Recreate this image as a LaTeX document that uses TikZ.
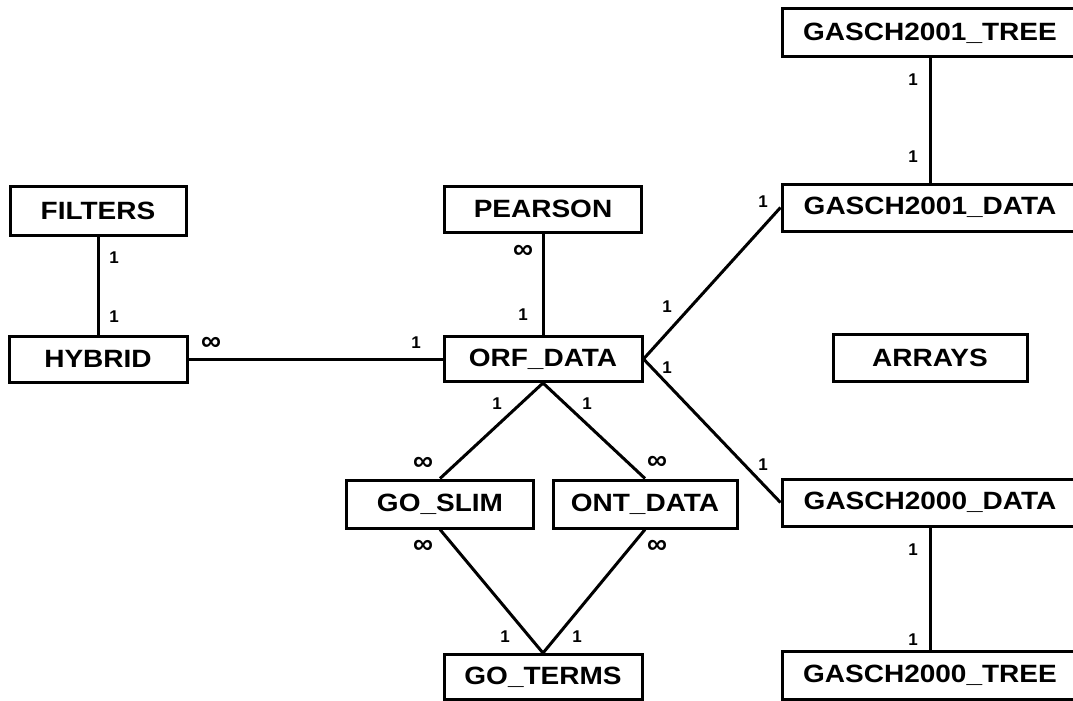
\documentclass[tikz,border=0pt]{standalone}
\usepackage{fontspec}
\setmainfont{Liberation Sans}
\newfontfamily\entityfont[FakeStretch=1.12]{Liberation Sans Bold}
\newfontfamily\cardfont{Liberation Sans Bold}
\begin{document}
\begin{tikzpicture}[x=1pt,y=-1pt,
  entity/.style={draw=black,line width=3pt,fill=white,inner sep=0pt,
    font=\entityfont\fontsize{25}{28}\selectfont,text=black},
  link/.style={draw=black,line width=3pt},
  card/.style={inner sep=0pt,font=\cardfont\fontsize{17}{18}\selectfont},
  many/.style={inner sep=0pt,font=\cardfont\fontsize{28}{30}\selectfont}]
\useasboundingbox (0,0) rectangle (1073,701);
\fill[white] (0,0) rectangle (1073,701);
\begin{scope}
\clip (0,0) rectangle (1073,701);
% entity boxes
\node[entity,minimum width=176pt,minimum height=49pt] (filters) at (98,211) {FILTERS};
\node[entity,minimum width=178pt,minimum height=46pt] (hybrid) at (98,359) {HYBRID};
\node[entity,minimum width=197pt,minimum height=46pt] (pearson) at (543,209) {PEARSON};
\node[entity,minimum width=198pt,minimum height=45pt] (orf) at (543,359) {ORF\_DATA};
\node[entity,minimum width=187pt,minimum height=48pt] (goslim) at (440,504) {GO\_SLIM};
\node[entity,minimum width=184pt,minimum height=48pt] (ont) at (645,504) {ONT\_DATA};
\node[entity,minimum width=198pt,minimum height=45pt] (goterms) at (543,677) {GO\_TERMS};
\node[entity,minimum width=194pt,minimum height=47pt] (arrays) at (930,358) {ARRAYS};
\node[entity,minimum width=296pt,minimum height=48pt] (gtree1) at (930,33) {GASCH2001\_TREE};
\node[entity,minimum width=296pt,minimum height=47pt] (gdata1) at (930,207.5) {GASCH2001\_DATA};
\node[entity,minimum width=296pt,minimum height=47pt] (gdata0) at (930,502.5) {GASCH2000\_DATA};
\node[entity,minimum width=296pt,minimum height=48pt] (gtree0) at (930,675) {GASCH2000\_TREE};
% relationships
\draw[link] (filters) -- (hybrid);
\draw[link] (hybrid.east) -- (orf.west);
\draw[link] (pearson) -- (orf);
\draw[link] (orf.south) -- (goslim.north);
\draw[link] (orf.south) -- (ont.north);
\draw[link] (goslim.south) -- (goterms.north);
\draw[link] (ont.south) -- (goterms.north);
\draw[link] (orf.east) -- (gdata1.west);
\draw[link] (orf.east) -- (gdata0.west);
\draw[link] (gtree1) -- (gdata1);
\draw[link] (gdata0) -- (gtree0);
% cardinalities
\node[card] (c1) at (114,258) {1};
\node[card] (c2) at (114,317) {1};
\node[many] (m1) at (211,344) {∞};
\node[card] (c3) at (416,343) {1};
\node[many] (m2) at (523,252) {∞};
\node[card] (c4) at (523,315) {1};
\node[card] (c5) at (497,404) {1};
\node[card] (c6) at (587,404) {1};
\node[many] (m3) at (423,464) {∞};
\node[many] (m4) at (657,463) {∞};
\node[many] (m5) at (423,547) {∞};
\node[many] (m6) at (657,547) {∞};
\node[card] (c7) at (505,637) {1};
\node[card] (c8) at (577,637) {1};
\node[card] (c9) at (667,307) {1};
\node[card] (c10) at (667,368) {1};
\node[card] (c11) at (763,202) {1};
\node[card] (c12) at (763,465) {1};
\node[card] (c13) at (913,80) {1};
\node[card] (c14) at (913,157) {1};
\node[card] (c15) at (913,550) {1};
\node[card] (c16) at (913,640) {1};
\end{scope}
\end{tikzpicture}
\end{document}
